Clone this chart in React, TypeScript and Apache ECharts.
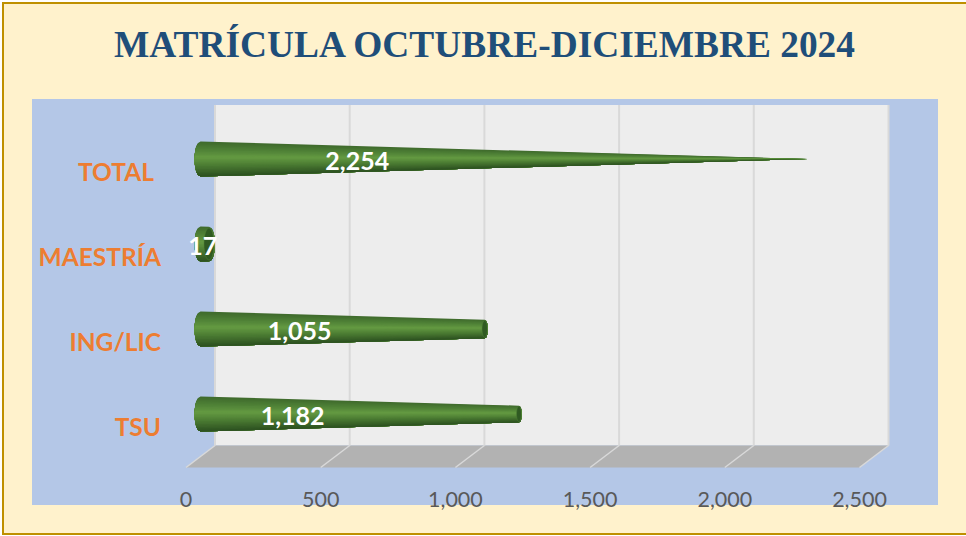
import React, { useEffect, useRef } from "react";
import * as echarts from "echarts";

const titleText = "MATRÍCULA OCTUBRE-DICIEMBRE 2024";
const categories = ["TSU", "ING/LIC", "MAESTRÍA", "TOTAL"];
const values = [1182, 1055, 17, 2254];
const ticks = [0, 500, 1000, 1500, 2000, 2500];
// where along the axis each data label sits (the source chart's labels were moved by hand)
const labelAnchors = [342, 368, 8, 582];

const DEPTH_X = 29;
const DEPTH_Y = 22;
const WALL_TOP = 105;
const R = 17.5;
const ELLIPSE = 0.34;
const MIN_LENGTH = 8.5;
const SHADE = [
  [0, [62, 106, 44]],
  [0.22, [78, 128, 54]],
  [0.45, [100, 154, 66]],
  [0.7, [74, 122, 50]],
  [1, [44, 80, 32]],
] as [number, number[]][];

function shade(t: number) {
  for (let i = 1; i < SHADE.length; i++) {
    if (t <= SHADE[i][0]) {
      const [t0, c0] = SHADE[i - 1];
      const [t1, c1] = SHADE[i];
      const k = (t - t0) / (t1 - t0);
      return `rgb(${c0.map((c, j) => Math.round(c + (c1[j] - c) * k)).join(",")})`;
    }
  }
  return "#2c5020";
}

const maxValue = Math.max(...values);

function renderFrame(params: any, api: any) {
  const tick = api.value(0);
  const cs = params.coordSys;
  const bottom = cs.y + cs.height;
  const x = api.coord([tick, 0])[0];
  const bx = x + DEPTH_X;
  const by = bottom - DEPTH_Y;
  const children: any[] = [];
  const next = ticks[params.dataIndex + 1];
  if (next !== undefined) {
    const nx = api.coord([next, 0])[0];
    children.push({
      type: "rect",
      shape: { x: bx, y: WALL_TOP, width: nx - x, height: by - WALL_TOP },
      style: { fill: "#EDEDED" },
    });
    children.push({
      type: "polygon",
      shape: { points: [[x, bottom], [bx, by], [nx + DEPTH_X, by], [nx, bottom]] },
      style: { fill: "#B2B2B2" },
    });
  }
  children.push({
    type: "line",
    shape: { x1: bx, y1: WALL_TOP, x2: bx, y2: by },
    style: { stroke: "#D9D9D9", lineWidth: 2 },
    z2: 2,
  });
  children.push({
    type: "line",
    shape: { x1: x, y1: bottom, x2: bx, y2: by },
    style: { stroke: "#D9D9D9", lineWidth: 1.5 },
    z2: 2,
  });
  return { type: "group", children };
}

function renderCone(params: any, api: any) {
  const value = api.value(0);
  const cat = api.value(1);
  const p0 = api.coord([0, cat]);
  const p1 = api.coord([value, cat]);
  const x0 = p0[0] + DEPTH_X / 2;
  const x1 = Math.max(p1[0] + DEPTH_X / 2, x0 + MIN_LENGTH);
  const cy = p0[1] - DEPTH_Y / 2;
  const r1 = R * (1 - value / maxValue);
  const rx0 = R * ELLIPSE;
  const rx1 = r1 * ELLIPSE;
  const children: any[] = [];
  const N = 24;
  // Painted top to bottom, each band reaching the lower rim, so no seams show.
  for (let i = 0; i < N; i++) {
    const left: number[][] = [];
    const right: number[][] = [];
    for (let j = i; j <= N; j++) {
      const a = -1 + (2 * j) / N;
      const w = Math.sqrt(Math.max(0, 1 - a * a));
      left.push([x0 - rx0 * w, cy + R * a]);
      right.push([x1 + rx1 * w, cy + r1 * a]);
    }
    children.push({
      type: "polygon",
      shape: { points: left.concat(right.reverse()) },
      style: { fill: shade((i + 0.5) / N) },
      z2: i,
    });
  }
  if (r1 > 0.5) {
    children.push({
      type: "ellipse",
      shape: { cx: x1, cy, rx: rx1 * 0.85, ry: r1 * 0.92 },
      style: { fill: "#2F5A22", stroke: "#4E8034", lineWidth: 0.5 },
      z2: N + 1,
    });
  }
  const lx = api.coord([labelAnchors[params.dataIndex], cat])[0] + DEPTH_X / 2;
  children.push({
    type: "text",
    x: lx,
    y: cy + 0.5,
    z2: N + 20,
    style: {
      text: value.toLocaleString("en-US"),
      fill: "#FFFFFF",
      font: "bold 25px Lato",
      align: "center",
      verticalAlign: "middle",
    },
  });
  return { type: "group", children };
}

export default function App() {
  const ref = useRef<HTMLDivElement>(null);
  useEffect(() => {
    const chart = echarts.init(ref.current!, undefined, { renderer: "svg" });
    chart.setOption({
      animation: false,
      title: {
        text: titleText,
        left: 479.5,
        top: 21,
        textAlign: "center",
        textStyle: {
          fontFamily: "Liberation Serif",
          fontWeight: "bold",
          fontSize: 37.4,
          color: "#1F4E79",
        },
      },
      graphic: {
        elements: [
          {
            type: "rect",
            z: -10,
            shape: { x: 3, y: 3, width: 975, height: 531 },
            style: { fill: "#FFF2CC", stroke: "#BF9000", lineWidth: 2 },
          },
          {
            type: "rect",
            z: -9,
            shape: { x: 32, y: 99, width: 906, height: 406 },
            style: { fill: "#B4C7E7" },
          },
        ],
      },
      grid: { left: 186, top: 127.5, width: 673.5, height: 340, containLabel: false },
      xAxis: {
        type: "value",
        min: 0,
        max: 2500,
        interval: 500,
        z: 10,
        axisLine: { show: false },
        axisTick: { show: false },
        splitLine: { show: false },
        axisLabel: {
          margin: 20,
          color: "#595959",
          fontFamily: "Lato",
          fontSize: 21.5,
          formatter: (v: number) => v.toLocaleString("en-US"),
        },
      },
      yAxis: {
        type: "category",
        data: categories,
        z: 10,
        axisLine: { show: false },
        axisTick: { show: false },
        splitLine: { show: false },
        axisLabel: {
          margin: 25,
          color: "#ED7D31",
          fontFamily: "Lato",
          fontWeight: "bold",
          fontSize: 24.5,
          align: "right",
          padding: [3, 0, 0, 0],
          formatter: (v: string) => (v === "TOTAL" ? `{shift|${v}}` : v),
          rich: {
            shift: {
              color: "#ED7D31",
              fontFamily: "Lato",
              fontWeight: "bold",
              fontSize: 24.5,
              padding: [0, 7, 0, 0],
            },
          },
        },
      },
      series: [
        {
          type: "custom",
          z: 1,
          silent: true,
          coordinateSystem: "cartesian2d",
          renderItem: renderFrame,
          encode: { x: 0 },
          data: ticks.map((t) => [t]),
        },
        {
          type: "custom",
          z: 3,
          silent: true,
          coordinateSystem: "cartesian2d",
          renderItem: renderCone,
          encode: { x: 0, y: 1 },
          data: values.map((v, i) => [v, i]),
        },
      ],
    });
    return () => chart.dispose();
  }, []);
  return (
    <div
      ref={ref}
      style={{ position: "absolute", left: 0, top: 0, width: 966, height: 536 }}
    />
  );
}
